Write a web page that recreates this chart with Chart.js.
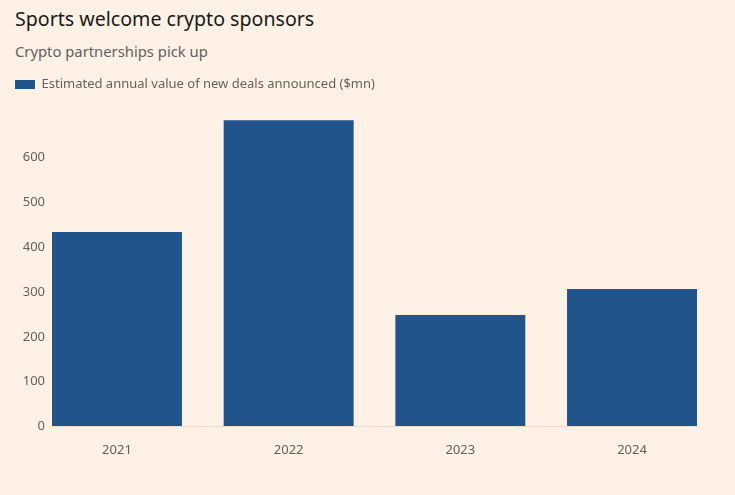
<!DOCTYPE html>
<html lang="en">
<head>
<meta charset="UTF-8">
<title>Sports welcome crypto sponsors</title>
<script src="https://cdn.jsdelivr.net/npm/chart.js@4.4.7/dist/chart.umd.min.js"></script>
<style>
*{margin:0;padding:0;box-sizing:border-box}
html,body{width:735px;height:495px;overflow:hidden;background:#fff1e5}
body{font-family:"Noto Sans",sans-serif;position:relative}
h1{position:absolute;left:15px;top:5px;font-size:19.6px;font-weight:400;color:#1a1817}
.sub{position:absolute;left:15px;top:41px;font-size:14.8px;color:#66605c}
.wrap{position:absolute;left:0;top:68px;width:735px;height:427px}
</style>
</head>
<body>
<h1>Sports welcome crypto sponsors</h1>
<p class="sub">Crypto partnerships pick up</p>
<div class="wrap"><canvas id="c"></canvas></div>
<script>
const YEARS = [2021, 2022, 2023, 2024];
const DEAL_VALUES = [434, 684, 249, 307];
const SERIES_LABEL = "Estimated annual value of new deals announced ($mn)";
const Y_TICKS = [0, 100, 200, 300, 400, 500, 600];

const grey = "#66605c";
const BAR_SHARE = 0.757;

// make room under the legend
const legendGap = {
  id: "legendGap",
  beforeInit(chart) {
    const fit = chart.legend.fit;
    chart.legend.fit = function () { fit.call(this); this.height += 12; };
  }
};

new Chart(document.getElementById("c"), {
  type: "bar",
  data: {
    datasets: [{
      label: SERIES_LABEL,
      data: YEARS.map((y, i) => ({x: y, y: DEAL_VALUES[i]})),
      backgroundColor: "#21548a",
      categoryPercentage: BAR_SHARE,
      barPercentage: 1
    }]
  },
  plugins: [legendGap],
  options: {
    responsive: true,
    maintainAspectRatio: false,
    animation: false,
    layout: {padding: {left: 5, right: 38, top: 0, bottom: 21}},
    plugins: {
      tooltip: {enabled: false},
      legend: {
        align: "start",
        labels: {
          boxWidth: 20, boxHeight: 9, padding: 10,
          color: grey,
          font: {family: "Noto Sans", size: 13}
        }
      }
    },
    scales: {
      x: {
        type: "linear",
        offset: false,
        bounds: "data",
        min: YEARS[0] - BAR_SHARE / 2,
        max: YEARS[YEARS.length - 1] + BAR_SHARE / 2,
        grid: {display: false, drawTicks: false, offset: false},
        border: {display: false},
        afterBuildTicks: s => { s.ticks = YEARS.map(v => ({value: v})); },
        ticks: {color: grey, padding: 16, font: {family: "Noto Sans", size: 13}, callback: v => String(v)}
      },
      y: {
        min: 0, max: 700,
        afterFit: s => { s.width = 47; },
        afterBuildTicks: s => { s.ticks = Y_TICKS.map(v => ({value: v})); },
        border: {display: false},
        grid: {
          drawTicks: false,
          color: c => c.tick && c.tick.value === 0 ? "#efdccb" : "transparent"
        },
        ticks: {padding: 7, color: grey, font: {family: "Noto Sans", size: 13}}
      }
    }
  }
});
</script>
</body>
</html>
